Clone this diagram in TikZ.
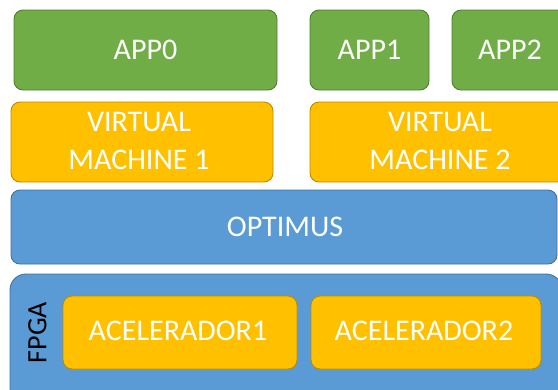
\documentclass[tikz,border=0pt]{standalone}
\usepackage{fontspec}
\setmainfont{Carlito}
\definecolor{appgreen}{HTML}{70AD47}
\definecolor{appgreenline}{HTML}{507E32}
\definecolor{vmgold}{HTML}{FFC000}
\definecolor{vmgoldline}{HTML}{BC8C00}
\definecolor{layerblue}{HTML}{5B9BD5}
\definecolor{layerblueline}{HTML}{41719C}
\tikzset{
  box/.style={draw, line width=0.9pt, rounded corners=9pt},
  appbox/.style={box, fill=appgreen, draw=appgreenline},
  vmbox/.style={box, fill=vmgold, draw=vmgoldline},
  layerbox/.style={box, fill=layerblue, draw=layerblueline},
  lbl/.style={text=white, font=\fontsize{30}{38}\selectfont, align=center, inner sep=0pt},
}
\begin{document}
\begin{tikzpicture}[x=1pt, y=-1pt]
  \useasboundingbox (0,0) rectangle (558,389);
  \clip (0,0) rectangle (558,389);
  % application row
  \draw[appbox] (14,10) rectangle (277,90);
  \node[lbl] (app0) at (145.5,50) {APP0};
  \draw[appbox] (310,10) rectangle (429,90);
  \node[lbl] (app1) at (369.5,50) {APP1};
  \draw[appbox] (452,10) rectangle (570,90);
  \node[lbl] (app2) at (510,50) {APP2};
  % virtual machines
  \draw[vmbox] (11,102) rectangle (273,182);
  \node[lbl] (vm1) at (139,141) {VIRTUAL\\MACHINE 1};
  \draw[vmbox] (310,102) rectangle (575,182);
  \node[lbl] (vm2) at (440,141) {VIRTUAL\\MACHINE 2};
  % hypervisor layer
  \draw[layerbox] (11,190) rectangle (557,264);
  \node[lbl] (optimus) at (285,227) {OPTIMUS};
  % FPGA with its accelerators
  \draw[layerbox, rounded corners=16pt] (10,274) rectangle (562,420);
  \node[font=\fontsize{28}{34}\selectfont, rotate=90, inner sep=0pt] (fpga) at (37.5,332.5) {FPGA};
  \draw[vmbox] (63,296) rectangle (297,369);
  \node[lbl] (acc1) at (178,331) {ACELERADOR1};
  \draw[vmbox] (311,296) rectangle (541,369);
  \node[lbl] (acc2) at (424,331) {ACELERADOR2};
\end{tikzpicture}
\end{document}
